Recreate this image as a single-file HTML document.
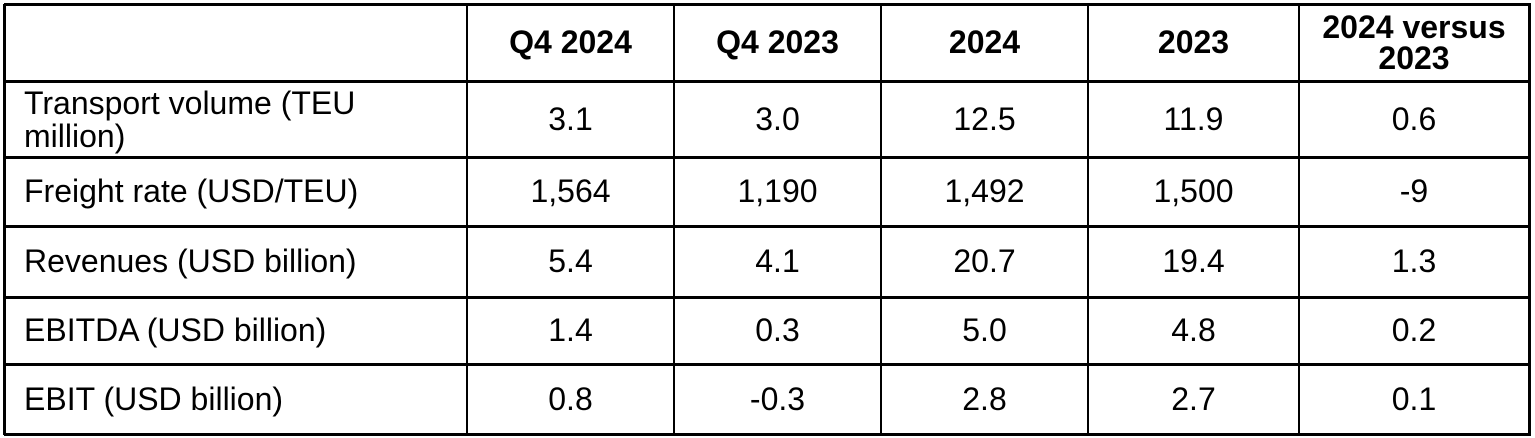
<!DOCTYPE html>
<html><head><meta charset="utf-8"><style>
body{margin:0;width:1535px;height:438px;background:#fff;font-family:"Liberation Sans",Arial,sans-serif;color:#000;overflow:hidden;position:relative}
.c{position:absolute;display:flex;align-items:center;justify-content:center;text-align:center;font-size:32px;line-height:33px;box-sizing:border-box;white-space:nowrap}
.l{justify-content:flex-start;text-align:left;padding-left:20px}
.h{font-weight:bold;line-height:31px}
.hl{position:absolute;background:#000;height:3px}
.vl{position:absolute;background:#000;width:2px}
</style></head><body>
<div id="t"></div>
<script>
const cols=[4,467,674,881,1088,1299,1529];
const rows=[4,81,157,226,297,364,434];
const headers=["","Q4 2024","Q4 2023","2024","2023","2024 versus 2023"];
const labels=["Transport volume (TEU million)","Freight rate (USD/TEU)","Revenues (USD billion)","EBITDA (USD billion)","EBIT (USD billion)"];
const q42024=["3.1","1,564","5.4","1.4","0.8"];
const q42023=["3.0","1,190","4.1","0.3","-0.3"];
const y2024=["12.5","1,492","20.7","5.0","2.8"];
const y2023=["11.9","1,500","19.4","4.8","2.7"];
const diff=["0.6","-9","1.3","0.2","0.1"];
const t=document.getElementById('t');
function cell(txt,ci,ri,cls){
 const d=document.createElement('div');
 d.className='c '+cls;
 d.style.left=cols[ci]+'px';d.style.width=(cols[ci+1]-cols[ci])+'px';
 d.style.top=rows[ri]+'px';d.style.height=(rows[ri+1]-rows[ri])+'px';
 d.textContent=txt;
 
 
 t.appendChild(d);
 return d;
}
headers.forEach((h,i)=>{const d=cell(h,i,0,'h');if(i===5)d.innerHTML='2024 versus<br>2023';});
const data=[q42024,q42023,y2024,y2023,diff];
labels.forEach((lb,r)=>{
 const d=cell(lb,0,r+1,'l');
 if(r===0){d.innerHTML='Transport volume (TEU<br>million)';d.style.lineHeight='33px';d.style.paddingTop='2px';}
 data.forEach((col,c)=>cell(col[r],c+1,r+1,''));
});
rows.forEach(y=>{const d=document.createElement('div');d.className='hl';d.style.left=cols[0]+'px';d.style.width=(cols[6]-cols[0]+2)+'px';d.style.top=(y-1)+'px';


t.appendChild(d);});
cols.forEach((x,i)=>{const d=document.createElement('div');d.className='vl';d.style.left=(x-1)+'px';d.style.top=rows[0]+'px';d.style.height=(rows[6]-rows[0]+1)+'px';if(i===0||i===6)d.style.width='3px';


t.appendChild(d);});
</script>
</body></html>
